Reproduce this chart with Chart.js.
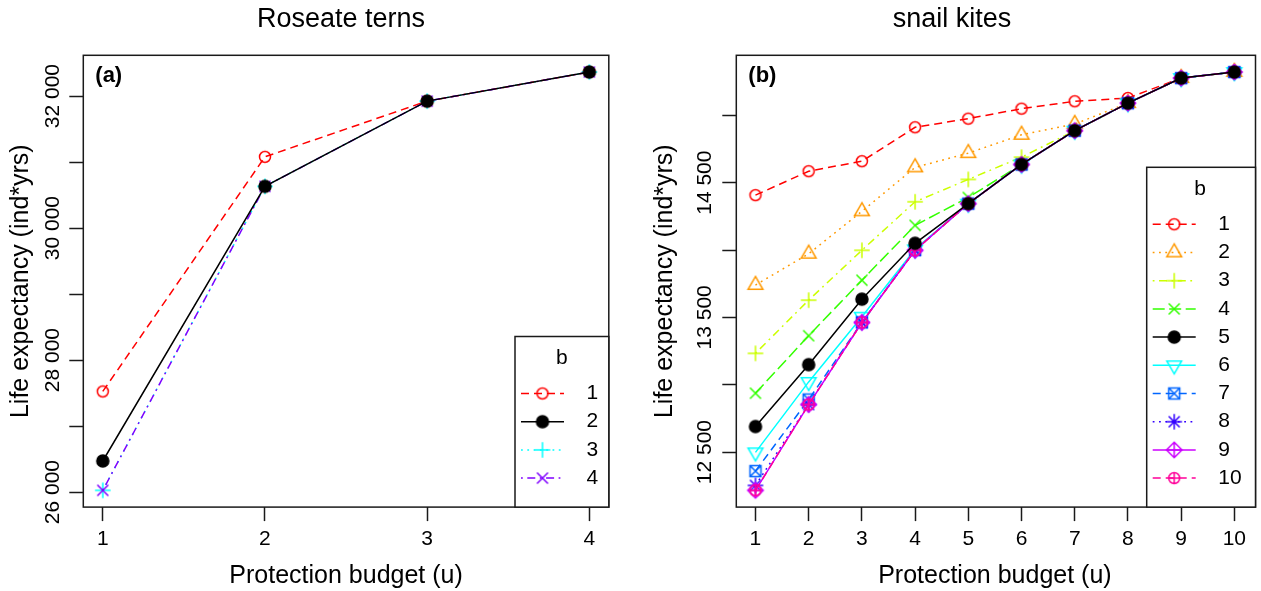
<!DOCTYPE html>
<html>
<head>
<meta charset="utf-8">
<script src="https://cdn.jsdelivr.net/npm/chart.js@4.4.1/dist/chart.umd.min.js"></script>
<style>
  html, body { margin: 0; padding: 0; background: #fff; overflow: hidden; }
  canvas { position: absolute; top: 0; }
  #ternChart { left: 0; }
  #kiteChart { left: 630px; }
</style>
</head>
<body>
<canvas id="ternChart" width="630" height="591"></canvas>
<canvas id="kiteChart" width="631" height="591"></canvas>
<script>
// (a) Roseate terns - life expectancy by protection budget u, one line per b
const ternBudget = [1, 2, 3, 4];
const ternB1 = [27525, 31080, 31924, 32365];
const ternB2 = [26471, 30633, 31924, 32365];
const ternB3 = [26026, 30633, 31924, 32365];
const ternB4 = [26026, 30633, 31924, 32365];
const ternYTicks = [26000, 27000, 28000, 29000, 30000, 31000, 32000];
const ternYLabels = [26000, 28000, 30000, 32000];

// (b) snail kites
const kiteBudget = [1, 2, 3, 4, 5, 6, 7, 8, 9, 10];
const kiteB1 = [14407, 14585, 14659, 14911, 14975, 15049, 15104, 15128, 15276, 15321];
const kiteB2 = [13740, 13972, 14287, 14613, 14719, 14855, 14935, 15090, 15276, 15321];
const kiteB3 = [13233, 13628, 13998, 14358, 14524, 14689, 14886, 15090, 15276, 15321];
const kiteB4 = [12937, 13364, 13776, 14183, 14390, 14635, 14886, 15090, 15276, 15321];
const kiteB5 = [12690, 13149, 13635, 14050, 14344, 14635, 14886, 15090, 15276, 15321];
const kiteB6 = [12498, 13021, 13505, 14005, 14344, 14635, 14886, 15090, 15276, 15321];
const kiteB7 = [12359, 12890, 13463, 14000, 14344, 14635, 14886, 15090, 15276, 15321];
const kiteB8 = [12253, 12853, 13462, 13998, 14344, 14635, 14886, 15090, 15276, 15321];
const kiteB9 = [12216, 12853, 13462, 13998, 14344, 14635, 14886, 15090, 15276, 15321];
const kiteB10 = [12216, 12853, 13462, 13998, 14344, 14635, 14886, 15090, 15276, 15321];
const kiteYTicks = [12500, 13000, 13500, 14000, 14500, 15000];
const kiteYLabels = [12500, 13500, 14500];

const FONT = '"Liberation Sans", Arial, Helvetica, sans-serif';
const INK = '#1a1a1a';

// R line types
const DASHED = [8, 5];
const DOTTED = [1.8, 4.5];
const DOTDASH = [1.8, 4.5, 8, 4.5];
const LONGDASH = [12, 4.5];
const SOLID = [];

// R plotting symbols drawn into small canvases, used as point styles
function pchCanvas(pch, color) {
    const c = document.createElement('canvas');
    c.width = 22; c.height = 22;
    const g = c.getContext('2d');
    const x = 11, y = 11, R = 5.5;
    const d = Math.SQRT2 * R;
    g.strokeStyle = color;
    g.fillStyle = color;
    g.lineWidth = 1.5;
    g.beginPath();
    if (pch === 1) {
        g.arc(x, y, R, 0, 2 * Math.PI);
    } else if (pch === 19) {
        g.arc(x, y, R + 0.5, 0, 2 * Math.PI);
        g.fill();
    } else if (pch === 2 || pch === 6) {
        const s = pch === 2 ? 1 : -1;
        const r = 1.5551 * R, xc = 1.3468 * R, yc = 0.7776 * R;
        g.moveTo(x, y - s * r);
        g.lineTo(x + xc, y + s * yc);
        g.lineTo(x - xc, y + s * yc);
        g.closePath();
    } else if (pch === 3) {
        g.moveTo(x - d, y); g.lineTo(x + d, y);
        g.moveTo(x, y - d); g.lineTo(x, y + d);
    } else if (pch === 4) {
        g.moveTo(x - R, y - R); g.lineTo(x + R, y + R);
        g.moveTo(x - R, y + R); g.lineTo(x + R, y - R);
    } else if (pch === 7) {
        g.rect(x - R, y - R, 2 * R, 2 * R);
        g.moveTo(x - R, y - R); g.lineTo(x + R, y + R);
        g.moveTo(x - R, y + R); g.lineTo(x + R, y - R);
    } else if (pch === 8) {
        g.moveTo(x - R, y - R); g.lineTo(x + R, y + R);
        g.moveTo(x - R, y + R); g.lineTo(x + R, y - R);
        g.moveTo(x - d, y); g.lineTo(x + d, y);
        g.moveTo(x, y - d); g.lineTo(x, y + d);
    } else if (pch === 9) {
        g.moveTo(x - d, y); g.lineTo(x, y + d); g.lineTo(x + d, y); g.lineTo(x, y - d); g.closePath();
        g.moveTo(x - d, y); g.lineTo(x + d, y);
        g.moveTo(x, y - d); g.lineTo(x, y + d);
    } else if (pch === 10) {
        g.arc(x, y, R, 0, 2 * Math.PI);
        g.moveTo(x - R, y); g.lineTo(x + R, y);
        g.moveTo(x, y - R); g.lineTo(x, y + R);
    }
    g.stroke();
    return c;
}

function series(label, values, color, pch, dash, order) {
    return {
        label: label,
        data: values,
        borderColor: color,
        backgroundColor: color,
        borderWidth: 1.5,
        borderDash: dash,
        pointStyle: pchCanvas(pch, color),
        pointRadius: 6,
        tension: 0,
        fill: false,
        order: order
    };
}

function spaced(v) {
    return String(v).replace(/\B(?=(\d{3})+(?!\d))/g, ' ');
}

// R style axis range: data range widened by 4% on each side
function rRange(arrays) {
    const all = [].concat(...arrays);
    const lo = Math.min(...all), hi = Math.max(...all);
    const pad = (hi - lo) * 0.04;
    return [lo - pad, hi + pad];
}

// box, panel tag, title, rotated y labels and legend in the look of base R graphics
const rPanel = {
    id: 'rPanel',
    afterDraw(chart, args, opts) {
        const ctx = chart.ctx;
        const a = chart.chartArea;
        ctx.save();
        ctx.strokeStyle = INK;
        ctx.lineWidth = 1.5;
        ctx.strokeRect(a.left, a.top, a.right - a.left + opts.boxExtra, a.bottom - a.top);

        ctx.fillStyle = '#000';
        ctx.textBaseline = 'middle';
        ctx.textAlign = 'center';
        ctx.font = '27px ' + FONT;
        ctx.fillText(opts.title, opts.titleX, 20);

        ctx.textAlign = 'left';
        ctx.font = 'bold 22px ' + FONT;
        ctx.fillText(opts.tag, a.left + 12, a.top + 21);

        ctx.font = '21px ' + FONT;
        ctx.textAlign = 'center';
        const ys = chart.scales.y;
        opts.yLabels.forEach(function (v) {
            ctx.save();
            ctx.translate(opts.yLabelX, ys.getPixelForValue(v));
            ctx.rotate(-Math.PI / 2);
            ctx.fillText(spaced(v), 0, 0);
            ctx.restore();
        });

        // legend, bottom right of the plot box
        const sets = chart.data.datasets;
        const h = 57 + 28.2 * (sets.length - 1) + 29;
        const left = a.right - opts.legendWidth;
        const top = a.bottom - h;
        ctx.fillStyle = '#fff';
        ctx.fillRect(left, top, opts.legendWidth + opts.boxExtra, h);
        ctx.strokeRect(left, top, opts.legendWidth + opts.boxExtra, h);
        ctx.fillStyle = '#000';
        ctx.fillText('b', (left + a.right) / 2, top + 22);
        sets.forEach(function (ds, i) {
            const y = top + 57 + 28.2 * i;
            ctx.save();
            ctx.strokeStyle = ds.borderColor;
            ctx.lineWidth = 1.5;
            ctx.setLineDash(ds.borderDash);
            ctx.beginPath();
            ctx.moveTo(left + 6, y);
            ctx.lineTo(left + 49, y);
            ctx.stroke();
            ctx.restore();
            ctx.drawImage(ds.pointStyle, left + 27.5 - 11, y - 11);
            ctx.textAlign = 'left';
            ctx.fillText(ds.label, left + 71.5, y);
        });
        ctx.restore();
    }
};

function axisTicks(values) {
    return function (scale) {
        scale.ticks = values.map(function (v) { return { value: v }; });
    };
}

const tickGrid = {
    drawOnChartArea: false,
    drawTicks: true,
    tickLength: 14,
    tickWidth: 1.5,
    tickColor: INK
};

Chart.defaults.font.family = FONT;
Chart.defaults.color = '#000';

const ternRange = rRange([ternB1, ternB2, ternB3, ternB4]);

new Chart(document.getElementById('ternChart'), {
    type: 'line',
    data: {
        labels: ternBudget,
        datasets: [
            series('1', ternB1, '#FF0000', 1, DASHED, 4),
            series('2', ternB2, '#000000', 19, SOLID, 0),
            series('3', ternB3, '#00FFFF', 3, DOTTED, 2),
            series('4', ternB4, '#8000FF', 4, DOTDASH, 1)
        ]
    },
    options: {
        responsive: false,
        devicePixelRatio: 1,
        animation: false,
        events: [],
        layout: { padding: { top: 55.3, right: 21.2, bottom: 0, left: 0 } },
        plugins: {
            legend: { display: false },
            tooltip: { enabled: false },
            rPanel: {
                title: 'Roseate terns', titleX: 341, tag: '(a)',
                yLabels: ternYLabels, yLabelX: 53,
                legendWidth: 93.8, boxExtra: 0
            }
        },
        scales: {
            x: {
                type: 'linear',
                min: 0.88, max: 4.12,
                afterBuildTicks: axisTicks(ternBudget),
                afterFit: function (s) { s.height = 83.9; },
                grid: tickGrid,
                border: { display: false },
                ticks: { font: { size: 21, lineHeight: 1 }, padding: 8, autoSkip: false, maxRotation: 0 },
                title: { display: true, text: 'Protection budget (u)', font: { size: 25 }, padding: { top: 0, bottom: 0 } }
            },
            y: {
                min: ternRange[0], max: ternRange[1],
                afterBuildTicks: axisTicks(ternYTicks),
                afterFit: function (s) { s.width = 83.3; },
                grid: tickGrid,
                border: { display: false },
                ticks: { display: false },
                title: { display: true, text: 'Life expectancy (ind*yrs)', font: { size: 25 }, padding: { top: 6, bottom: 0 } }
            }
        }
    },
    plugins: [rPanel]
});

const kiteRange = rRange([kiteB1, kiteB2, kiteB3, kiteB4, kiteB5, kiteB6, kiteB7, kiteB8, kiteB9, kiteB10]);

new Chart(document.getElementById('kiteChart'), {
    type: 'line',
    data: {
        labels: kiteBudget,
        datasets: [
            series('1', kiteB1, '#FF0000', 1, DASHED, 10),
            series('2', kiteB2, '#FF9900', 2, DOTTED, 9),
            series('3', kiteB3, '#CCFF00', 3, DOTDASH, 8),
            series('4', kiteB4, '#33FF00', 4, LONGDASH, 7),
            series('5', kiteB5, '#000000', 19, SOLID, 0),
            series('6', kiteB6, '#00FFFF', 6, SOLID, 6),
            series('7', kiteB7, '#0066FF', 7, DASHED, 5),
            series('8', kiteB8, '#3300FF', 8, DOTTED, 4),
            series('9', kiteB9, '#CC00FF', 9, SOLID, 3),
            series('10', kiteB10, '#FF0099', 10, DASHED, 2)
        ]
    },
    options: {
        responsive: false,
        devicePixelRatio: 1,
        animation: false,
        events: [],
        layout: { padding: { top: 55.3, right: 0, bottom: 0, left: 0 } },
        plugins: {
            legend: { display: false },
            tooltip: { enabled: false },
            rPanel: {
                title: 'snail kites', titleX: 322, tag: '(b)',
                yLabels: kiteYLabels, yLabelX: 75.5,
                legendWidth: 106.8, boxExtra: 2
            }
        },
        scales: {
            x: {
                type: 'linear',
                min: 0.64, max: 10.36,
                afterBuildTicks: axisTicks(kiteBudget),
                afterFit: function (s) { s.height = 83.9; },
                grid: tickGrid,
                border: { display: false },
                ticks: { font: { size: 21, lineHeight: 1 }, padding: 8, autoSkip: false, maxRotation: 0 },
                title: { display: true, text: 'Protection budget (u)', font: { size: 25 }, padding: { top: 0, bottom: 0 } }
            },
            y: {
                min: kiteRange[0], max: kiteRange[1],
                afterBuildTicks: axisTicks(kiteYTicks),
                afterFit: function (s) { s.width = 106.3; },
                grid: tickGrid,
                border: { display: false },
                ticks: { display: false },
                title: { display: true, text: 'Life expectancy (ind*yrs)', font: { size: 25 }, padding: { top: 20, bottom: 0 } }
            }
        }
    },
    plugins: [rPanel]
});
</script>
</body>
</html>
